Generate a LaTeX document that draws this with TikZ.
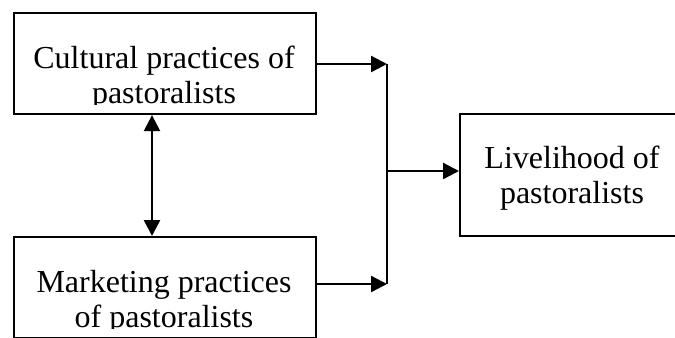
\documentclass[tikz,border=0pt]{standalone}
\usepackage{fontspec}
\setmainfont{Liberation Serif}
\usetikzlibrary{arrows.meta}
\begin{document}
\begin{tikzpicture}[x=0.75pt,y=-0.75pt,
  box/.style={draw, line width=1.6pt, inner sep=0pt, anchor=north west},
  txt/.style={font=\fontsize{24}{26}\selectfont, inner sep=0pt, anchor=base},
  arr/.style={line width=1.8pt, -{Triangle[length=12pt,width=12pt]}},
  darr/.style={line width=1.8pt, {Triangle[length=12pt,width=12pt]}-{Triangle[length=12pt,width=12pt]}},
  joinline/.style={line width=1.4pt}
]
\clip (0,0) rectangle (675,337);
\fill[white] (0,0) rectangle (675,337);
% boxes
\node[box, minimum width=226.5pt, minimum height=75.75pt] (cult) at (13,12) {};
\node[box, minimum width=226.5pt, minimum height=75.75pt] (mkt) at (13,236) {};
\node[box, minimum width=180.75pt, minimum height=91.5pt] (live) at (459,113) {};
% texts (clipped inside inner margins as in the original)
\begin{scope}
  \clip (13,12) rectangle (315,104);
  \node[txt] (cultA) at (164,68) {Cultural practices of};
  \node[txt] (cultB) at (164,103) {pastoralists};
\end{scope}
\begin{scope}
  \clip (13,236) rectangle (315,328);
  \node[txt] (mktA) at (164,292) {Marketing practices};
  \node[txt] (mktB) at (164,327) {of pastoralists};
\end{scope}
\node[txt] (liveA) at (572,168) {Livelihood of};
\node[txt] (liveB) at (572,203) {pastoralists};
% connectors
\coordinate (j1) at (387,64);
\coordinate (j2) at (387,284);
\coordinate (j3) at (387,171);
\coordinate (d) at (152,0);
\draw[arr] (cult.east |- j1) -- (j1);
\draw[arr] (mkt.east |- j2) -- (j2);
\draw[joinline] (j1) -- (j2);
\draw[arr] (j3) -- (j3 -| live.west);
\draw[darr] (cult.south -| d) -- (mkt.north -| d);
\end{tikzpicture}
\end{document}
